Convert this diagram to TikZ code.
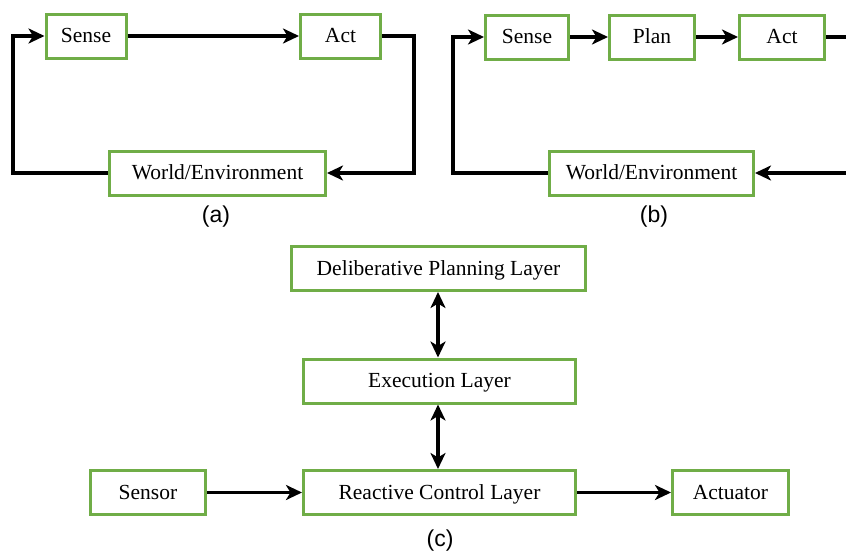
\documentclass[tikz,border=0pt]{standalone}
\usepackage{fontspec}
\setmainfont{Liberation Serif}
\newfontfamily\capfont{Liberation Sans}
\usetikzlibrary{arrows.meta}
\definecolor{boxgreen}{RGB}{112,173,71}

\begin{document}
\begin{tikzpicture}[x=1pt,y=-1pt,
  box/.style={draw=boxgreen, line width=3pt, fill=white, inner sep=0pt,
              minimum height=44pt, text height=14.5pt, text depth=1pt,
              font=\fontsize{21.5}{25}\selectfont},
  link/.style={line width=3.5pt, draw=black},
  >={Stealth[length=16pt,width=15pt,inset=4.5pt]},
  caption/.style={font=\capfont\fontsize{23}{27}\selectfont, inner sep=0pt}
]
\path[use as bounding box] (0,0) rectangle (846,554);
\clip (0,0) rectangle (846,554);

% (a) sense -> act loop
\node[box, minimum width=80pt] (sa) at (86,36) {Sense};
\node[box, minimum width=80pt] (aa) at (340.5,36) {Act};
\node[box, minimum width=216pt] (wa) at (217.5,173) {World/Environment};
\coordinate (aleft) at (13,36);
\coordinate (aright) at (414,173);
\draw[link,->] (sa) -- (aa);
\draw[link,->] (wa.west) -| (aleft) -- (sa.west);
\draw[link,->] (aa.east) -| (aright) -- (wa.east);
\node[caption] (capa) at (216,217) {(a)};

% (b) sense -> plan -> act loop
\node[box, minimum width=83pt] (sb) at (527,37) {Sense};
\node[box, minimum width=85pt] (pb) at (652,37) {Plan};
\node[box, minimum width=85pt] (ab) at (782,37) {Act};
\node[box, minimum width=204pt] (wb) at (651.5,173) {World/Environment};
\coordinate (bleft) at (453,37);
\coordinate (bright) at (866,173);
\draw[link,->] (sb) -- (pb);
\draw[link,->] (pb) -- (ab);
\draw[link,->] (wb.west) -| (bleft) -- (sb.west);
\draw[link,->] (ab.east) -| (bright) -- (wb.east);
\node[caption] (capb) at (654,217) {(b)};

% (c) layered architecture
\node[box, minimum width=294pt] (delib) at (438.5,268.5) {Deliberative Planning Layer};
\node[box, minimum width=272pt] (exec) at (439.5,381) {Execution Layer};
\node[box, minimum width=272pt] (react) at (439.5,492.5) {Reactive Control Layer};
\node[box, minimum width=115pt] (sensor) at (148,492.5) {Sensor};
\node[box, minimum width=116pt] (actuator) at (730.5,492.5) {Actuator};
\coordinate (spine) at (438,0);
\draw[link,<->] (delib.south -| spine) -- (exec.north -| spine);
\draw[link,<->] (exec.south -| spine) -- (react.north -| spine);
\draw[link,->] (sensor) -- (react);
\draw[link,->] (react) -- (actuator);
\node[caption] (capc) at (440,541) {(c)};
\end{tikzpicture}
\end{document}
